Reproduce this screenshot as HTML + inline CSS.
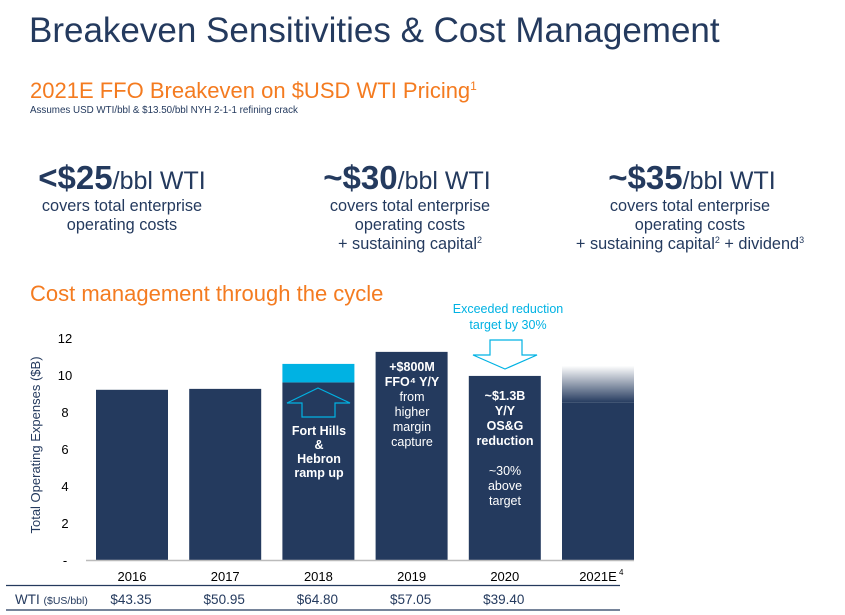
<!DOCTYPE html>
<html><head><meta charset="utf-8">
<style>
html,body{margin:0;padding:0;background:#fff;}
svg{display:block;font-family:"Liberation Sans",Arial,sans-serif;}
</style></head>
<body>
<svg id="c" width="845" height="615" viewBox="0 0 845 615" xmlns="http://www.w3.org/2000/svg">
<text x="29" y="42" font-size="35" fill="#243a5e">Breakeven Sensitivities &amp; Cost Management</text>
<text x="30" y="98" font-size="22" fill="#f47b20">2021E FFO Breakeven on $USD WTI Pricing<tspan font-size="12" dy="-8">1</tspan></text>
<text x="30" y="113" font-size="9.8" fill="#243a5e">Assumes USD WTI/bbl &amp; $13.50/bbl NYH 2-1-1 refining crack</text>

<g fill="#243a5e" text-anchor="middle">
<text x="122" y="189"><tspan font-size="33" font-weight="bold">&lt;$25</tspan><tspan font-size="25">/bbl WTI</tspan></text>
<text x="122" y="211" font-size="16.3">covers total enterprise</text>
<text x="122" y="230" font-size="16.3">operating costs</text>
</g>
<g fill="#243a5e" text-anchor="middle">
<text x="407" y="189"><tspan font-size="33" font-weight="bold">~$30</tspan><tspan font-size="25">/bbl WTI</tspan></text>
<text x="410" y="211" font-size="16.3">covers total enterprise</text>
<text x="410" y="230" font-size="16.3">operating costs</text>
<text x="410" y="249" font-size="16.3">+ sustaining capital<tspan font-size="9" dy="-6">2</tspan></text>
</g>
<g fill="#243a5e" text-anchor="middle">
<text x="692" y="189"><tspan font-size="33" font-weight="bold">~$35</tspan><tspan font-size="25">/bbl WTI</tspan></text>
<text x="690" y="211" font-size="16.3">covers total enterprise</text>
<text x="690" y="230" font-size="16.3">operating costs</text>
<text x="690" y="249" font-size="16.3">+ sustaining capital<tspan font-size="9" dy="-6">2</tspan><tspan dy="6"> + dividend</tspan><tspan font-size="9" dy="-6">3</tspan></text>
</g>

<text x="30" y="301" font-size="22" fill="#f47b20">Cost management through the cycle</text>
<defs>
<linearGradient id="fade" x1="0" y1="0" x2="0" y2="1">
<stop offset="0" stop-color="#243a5e" stop-opacity="0"/>
<stop offset="1" stop-color="#243a5e" stop-opacity="1"/>
</linearGradient>
</defs>
<g id="plot"></g>
</svg>
<script>
const years = ['2016','2017','2018','2019','2020','2021E'];
const opex = [9.2, 9.25, 9.6, 11.25, 9.95, 10.5];
const growth = [0, 0, 1.0, 0, 0, 0];
const solid2021 = 8.5;
const wti = ['$43.35','$50.95','$64.80','$57.05','$39.40',''];
const yTicks = [0,2,4,6,8,10,12];
const yTickLabels = ['-','2','4','6','8','10','12'];

const NS='http://www.w3.org/2000/svg';
const g=document.getElementById('plot');
const y0=560, pxPerUnit=18.5;
const yScale=v=>y0-v*pxPerUnit;
const slotX=i=>96+i*93.2;
const barW=72;
function mk(tag,attrs,text){const e=document.createElementNS(NS,tag);for(const k in attrs)e.setAttribute(k,attrs[k]);if(text!==undefined)e.textContent=text;g.appendChild(e);return e;}

yTicks.forEach((t,i)=>{
  const e=mk('text',{x:65,y:yScale(t)+5,'font-size':13,fill:'#000','text-anchor':'middle'},yTickLabels[i]);
  
  
});
const yt=mk('text',{x:0,y:0,'font-size':13,fill:'#243a5e','text-anchor':'middle',transform:'translate(40,445) rotate(-90)'},'Total Operating Expenses ($B)');



years.forEach((yr,i)=>{
  const x=slotX(i);
  if(yr==='2021E'){
    const r1=mk('rect',{x:x,y:yScale(opex[i]),width:barW,height:yScale(solid2021)-yScale(opex[i]),fill:'url(#fade)'});
    
    
    const r2=mk('rect',{x:x,y:yScale(solid2021),width:barW,height:y0-yScale(solid2021),fill:'#243a5e'});
    
    
  } else {
    const r=mk('rect',{x:x,y:yScale(opex[i]),width:barW,height:y0-yScale(opex[i]),fill:'#243a5e'});
    
    
    if(growth[i]>0){
      const c=mk('rect',{x:x,y:yScale(opex[i]+growth[i]),width:barW,height:growth[i]*pxPerUnit,fill:'#00b2e3'});
      
      
    }
  }
  const lbl=mk('text',{x:x+barW/2,y:581,'font-size':13,fill:'#000','text-anchor':'middle'},yr);
  
  
  if(wti[i]){
    const w=mk('text',{x:x+barW/2-1,y:604,'font-size':13.5,fill:'#243a5e','text-anchor':'middle'},wti[i]);
    
    
  }
});
const sup=mk('text',{x:619,y:575,'font-size':8,fill:'#000'},'4');



const base=mk('line',{x1:86,y1:y0+0.5,x2:634,y2:y0+0.5,stroke:'#bbb','stroke-width':1.5});


const l1=mk('line',{x1:6,y1:585.5,x2:620,y2:585.5,stroke:'#243a5e','stroke-width':1.3});


const l2=mk('line',{x1:6,y1:610,x2:620,y2:610,stroke:'#243a5e','stroke-width':1.3});


const wl=mk('text',{x:15,y:604,'font-size':13.5,fill:'#243a5e'},'WTI ');


const wl2=mk('tspan',{'font-size':10.5},'($US/bbl)');
wl.appendChild(wl2);

// arrows
const up=mk('path',{d:'M318,388 L350,403 L335,403 L335,417 L302,417 L302,403 L287,403 Z',fill:'none',stroke:'#00b2e3','stroke-width':1.2});


const down=mk('path',{d:'M490,340 L522,340 L522,355 L537,355 L505,369 L473,355 L490,355 Z',fill:'none',stroke:'#00b2e3','stroke-width':1.2});



function block(lines,cx,y,lh,name,bold,color,size){
  const t=mk('text',{x:cx,y:y,'font-size':size||12.5,fill:color||'#fff','text-anchor':'middle','font-weight':bold?'bold':'normal'});
  
  
  lines.forEach((l,i)=>{const s=document.createElementNS(NS,'tspan');s.setAttribute('x',cx);s.setAttribute('y',y+i*lh);
    if(typeof l==='string'){s.textContent=l;} else {s.textContent=l[0];s.setAttribute('font-weight',l[1]?'bold':'normal');}
    t.appendChild(s);});
}
block(['Fort Hills','&','Hebron','ramp up'],319,435,14,'rampup-annotation',true);
block([['+$800M',true],['FFO⁴ Y/Y',true],['from',false],['higher',false],['margin',false],['capture',false]],412,371,15,'ffo-annotation',false);
block([['~$1.3B',true],['Y/Y',true],['OS&G',true],['reduction',true],['',false],['~30%',false],['above',false],['target',false]],505,400,15,'reduction-annotation',false);
block(['Exceeded reduction','target by 30%'],508,313,16,'exceeded-annotation',false,'#00b2e3',12.5);
</script>
</body></html>
